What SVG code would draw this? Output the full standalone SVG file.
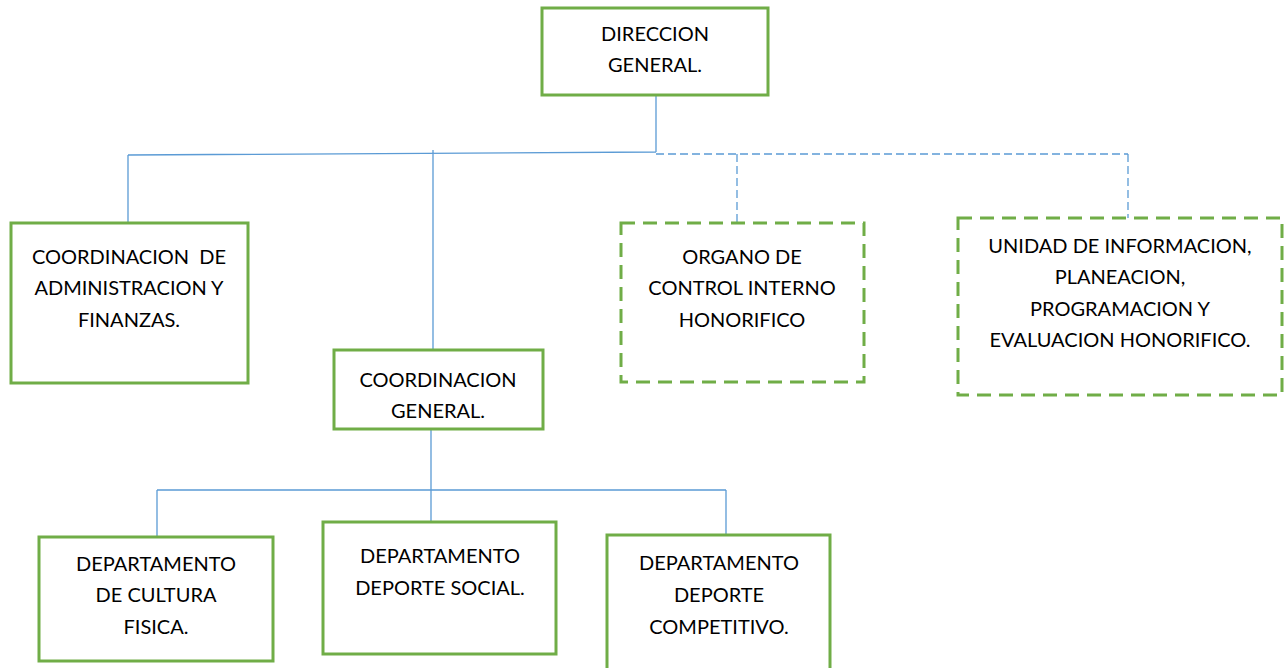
<svg xmlns="http://www.w3.org/2000/svg" width="1284" height="668" viewBox="0 0 1284 668">
<style>
.box{fill:#fff;stroke:#70AD47;stroke-width:3}
.dbox{fill:#fff;stroke:#70AD47;stroke-width:3;stroke-dasharray:14 8}
.ln{fill:none;stroke:#5B9BD5;stroke-width:1.3}
.dl{fill:none;stroke:#5B9BD5;stroke-width:1.3;stroke-dasharray:8 4}
text{font-family:Lato,"Open Sans","Liberation Sans",sans-serif;font-size:20px;fill:#000;text-anchor:middle}
</style>
<rect width="1284" height="668" fill="#fff"/>
<g id="connectors">
<path class="ln" d="M656 95 V152 M128 155 L656 152 M128 155 V223 M433 150 V350"/>
<path class="dl" d="M656 154 H1128 M737 154 V223 M1128 154 V219"/>
<path class="ln" d="M431 429 V490 M157 490 H726 M157 490 V537 M431 490 V522 M726 490 V535"/>
</g>
<g id="direccion">
<rect class="box" x="542" y="8" width="226" height="87"/>
<text x="655" y="41">DIRECCION</text>
<text x="655" y="72">GENERAL.</text>
</g>
<g id="coord-admin">
<rect class="box" x="11" y="223" width="237" height="160"/>
<text x="129" y="264" xml:space="preserve">COORDINACION  DE</text>
<text x="129" y="295">ADMINISTRACION Y</text>
<text x="129" y="327">FINANZAS.</text>
</g>
<g id="coord-general">
<rect class="box" x="334" y="350" width="209" height="79"/>
<text x="438" y="387">COORDINACION</text>
<text x="438" y="418">GENERAL.</text>
</g>
<g id="organo">
<rect class="dbox" x="621" y="223" width="243" height="159"/>
<text x="742" y="264">ORGANO DE</text>
<text x="742" y="295">CONTROL INTERNO</text>
<text x="742" y="327">HONORIFICO</text>
</g>
<g id="unidad">
<rect class="dbox" x="958" y="218" width="324" height="177"/>
<text x="1120" y="253">UNIDAD DE INFORMACION,</text>
<text x="1120" y="284">PLANEACION,</text>
<text x="1120" y="316">PROGRAMACION Y</text>
<text x="1120" y="347">EVALUACION HONORIFICO.</text>
</g>
<g id="dep-cultura">
<rect class="box" x="39" y="537" width="234" height="124"/>
<text x="156" y="571">DEPARTAMENTO</text>
<text x="156" y="602">DE CULTURA</text>
<text x="156" y="634">FISICA.</text>
</g>
<g id="dep-social">
<rect class="box" x="323" y="522" width="233" height="132"/>
<text x="440" y="563">DEPARTAMENTO</text>
<text x="440" y="595">DEPORTE SOCIAL.</text>
</g>
<g id="dep-competitivo">
<rect class="box" x="607" y="535" width="223" height="140"/>
<text x="719" y="570">DEPARTAMENTO</text>
<text x="719" y="602">DEPORTE</text>
<text x="719" y="634">COMPETITIVO.</text>
</g>
</svg>
